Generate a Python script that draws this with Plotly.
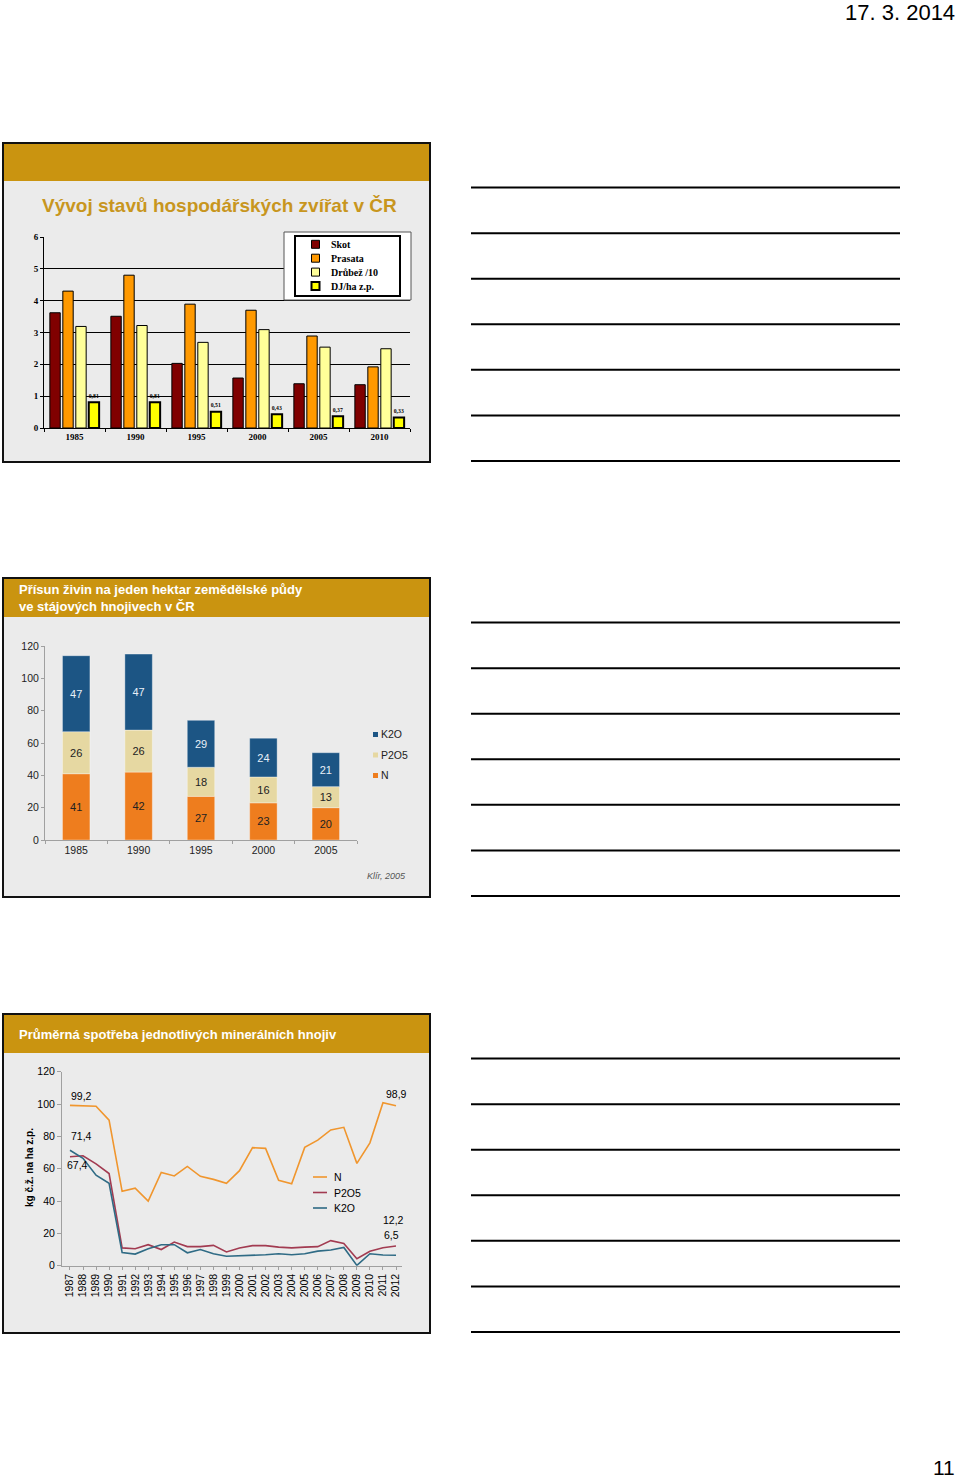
import plotly.graph_objects as go

W, H = 960, 1479

# --- slide 1: livestock numbers ---
years1 = ["1985", "1990", "1995", "2000", "2005", "2010"]
skot = [3.62, 3.51, 2.03, 1.57, 1.39, 1.36]
prasata = [4.30, 4.80, 3.89, 3.70, 2.89, 1.92]
drubez = [3.19, 3.22, 2.69, 3.09, 2.54, 2.49]
dj_ha = [0.81, 0.81, 0.51, 0.43, 0.37, 0.33]

# --- slide 2: nutrients in manure ---
years2 = ["1985", "1990", "1995", "2000", "2005"]
n_manure = [41, 42, 27, 23, 20]
p_manure = [26, 26, 18, 16, 13]
k_manure = [47, 47, 29, 24, 21]

# --- slide 3: mineral fertiliser use ---
years3 = list(range(1987, 2013))
n_min = [99.2, 99.0, 98.6, 90.0, 46.0, 48.0, 40.0, 57.7, 55.5, 61.4, 55.3, 53.4, 51.0,
         58.8, 73.0, 72.6, 52.8, 50.7, 73.2, 77.7, 84.0, 85.6, 63.3, 76.0, 100.8, 98.9]
p_min = [67.4, 68.0, 63.0, 57.0, 11.0, 10.5, 13.0, 10.0, 14.6, 11.8, 11.8, 12.6, 8.5,
         11.0, 12.4, 12.4, 11.5, 11.0, 11.5, 11.8, 15.5, 13.8, 4.3, 8.9, 11.1, 12.2]
k_min = [71.4, 66.4, 56.0, 51.0, 8.2, 7.2, 10.5, 13.0, 13.0, 8.0, 10.0, 7.4, 5.8,
         6.0, 6.6, 6.8, 7.4, 6.8, 7.4, 9.0, 9.7, 11.3, 0.2, 7.4, 6.6, 6.5]

GOLD = "#CA9410"
SLIDE_BG = "#EBEBEB"
SANS = "Liberation Sans"
SERIF = "Liberation Serif"


def px(x):
    return x / W


def py(y):
    return 1 - y / H


def cz(v, fmt="{:.2f}"):
    return fmt.format(v).replace(".", ",")


fig = go.Figure()
shapes = []
annotations = []

# slide 1 bars
serif_bold = dict(family=SERIF, size=9, color="black", weight="bold")
series1 = [
    ("Skot", skot, "#800000", 1),
    ("Prasata", prasata, "#FF9900", 1),
    ("Drůbež /10", drubez, "#FFFF99", 1),
    ("DJ/ha z.p.", dj_ha, "#FFFF00", 2),
]
for name, vals, color, lw in series1:
    fig.add_trace(go.Bar(
        x=years1, y=vals, name=name, xaxis="x", yaxis="y", showlegend=False,
        marker=dict(color=color, line=dict(color="black", width=lw)),
        text=[cz(v) for v in vals] if name.startswith("DJ") else None,
        textposition="outside", cliponaxis=False,
        textfont=dict(family=SERIF, size=7, color="black", weight="bold"),
    ))

# slide 2 stacked bars (manual base so slide 1 can stay grouped)
base_p = n_manure
base_k = [a + b for a, b in zip(n_manure, p_manure)]
series2 = [
    ("N", n_manure, None, "#EE7D1E", "#222222"),
    ("P2O5", p_manure, base_p, "#E6D8A2", "#222222"),
    ("K2O", k_manure, base_k, "#1C5584", "#E8F0F8"),
]
for name, vals, base, color, tcol in series2:
    fig.add_trace(go.Bar(
        x=years2, y=vals, base=base, name=name, xaxis="x2", yaxis="y2", showlegend=False,
        offsetgroup="stack", width=0.44, offset=-0.22,
        marker=dict(color=color, line=dict(color="rgba(255,255,255,0.35)", width=1)),
        text=[str(v) for v in vals], textposition="inside", insidetextanchor="middle",
        constraintext="none", textangle=0,
        textfont=dict(family=SANS, size=11, color=tcol),
    ))

# slide 3 lines
series3 = [
    ("N", n_min, "#F0962E"),
    ("P2O5", p_min, "#A23B51"),
    ("K2O", k_min, "#2F6B85"),
]
for name, vals, color in series3:
    fig.add_trace(go.Scatter(
        x=years3, y=vals, name=name, mode="lines", xaxis="x3", yaxis="y3", showlegend=False,
        line=dict(color=color, width=1.6),
    ))

# slide frames, headers and note lines
for top, bottom, head in [(143, 462, 181), (578, 897, 617), (1014, 1333, 1053)]:
    shapes.append(dict(type="rect", xref="paper", yref="paper", layer="below",
                       x0=px(3), x1=px(430), y0=py(bottom), y1=py(top),
                       fillcolor=SLIDE_BG, line=dict(width=0)))
    shapes.append(dict(type="rect", xref="paper", yref="paper", layer="below",
                       x0=px(3), x1=px(430), y0=py(head), y1=py(top),
                       fillcolor=GOLD, line=dict(width=0)))
    shapes.append(dict(type="rect", xref="paper", yref="paper", layer="above",
                       x0=px(3), x1=px(430), y0=py(bottom), y1=py(top),
                       fillcolor="rgba(0,0,0,0)", line=dict(color="#111111", width=2)))
    step = (bottom - top) / 7
    for i in range(7):
        yy = top + step * (i + 1) - 1
        shapes.append(dict(type="line", xref="paper", yref="paper",
                           x0=px(471), x1=px(900), y0=py(yy), y1=py(yy),
                           line=dict(color="black", width=2)))

# legend box on slide 1 (drawn by hand to get the tight row spacing)
shapes.append(dict(type="rect", xref="paper", yref="paper", layer="above",
                   x0=px(284), x1=px(411), y0=py(300), y1=py(232),
                   fillcolor="white", line=dict(color="#555555", width=1)))
shapes.append(dict(type="rect", xref="paper", yref="paper", layer="above",
                   x0=px(295), x1=px(400), y0=py(296), y1=py(236),
                   fillcolor="white", line=dict(color="black", width=2)))
for i, (name, vals, color, lw) in enumerate(series1):
    yc = 244.3 + i * 13.9
    shapes.append(dict(type="rect", xref="paper", yref="paper", layer="above",
                       x0=px(311.5), x1=px(319.5), y0=py(yc + 4), y1=py(yc - 4),
                       fillcolor=color, line=dict(color="black", width=lw)))
    annotations.append(dict(text=name, x=px(329), y=py(yc), xref="paper", yref="paper",
                            xanchor="left", yanchor="middle", showarrow=False,
                            font=dict(family=SERIF, size=10, color="black", weight="bold")))

# legend on slide 2
for i, (name, vals, base, color, tcol) in enumerate(reversed(series2)):
    yc = 734 + i * 20.5
    shapes.append(dict(type="rect", xref="paper", yref="paper",
                       x0=px(373), x1=px(378), y0=py(yc + 3), y1=py(yc - 2),
                       fillcolor=color, line=dict(width=0)))
    annotations.append(dict(text=name, x=px(378.5), y=py(yc), xref="paper", yref="paper",
                            xanchor="left", yanchor="middle", showarrow=False,
                            font=dict(family=SANS, size=10.5, color="#222222")))

# legend on slide 3
for i, (name, vals, color) in enumerate(series3):
    yc = 1177 + i * 15.5
    shapes.append(dict(type="line", xref="paper", yref="paper",
                       x0=px(313), x1=px(327), y0=py(yc), y1=py(yc),
                       line=dict(color=color, width=1.6)))
    annotations.append(dict(text=name, x=px(332), y=py(yc), xref="paper", yref="paper",
                            xanchor="left", yanchor="middle", showarrow=False,
                            font=dict(family=SANS, size=10.5, color="black")))

annotations += [
    dict(text="17. 3. 2014", x=px(957), y=py(12), xref="paper", yref="paper",
         xanchor="right", yanchor="middle", showarrow=False,
         font=dict(family=SANS, size=22, color="black")),
    dict(text="11", x=px(957), y=py(1467), xref="paper", yref="paper",
         xanchor="right", yanchor="middle", showarrow=False,
         font=dict(family=SANS, size=21, color="black")),
    dict(text="Vývoj stavů hospodářských zvířat v ČR", x=px(219), y=py(205),
         xref="paper", yref="paper", xanchor="center", yanchor="middle", showarrow=False,
         font=dict(family=SANS, size=19, color="#C8961E", weight="bold")),
    dict(text="Přísun živin na jeden hektar zemědělské půdy<br>ve stájových hnojivech v ČR",
         x=px(17), y=py(580), xref="paper", yref="paper", xanchor="left", yanchor="top",
         align="left", showarrow=False,
         font=dict(family=SANS, size=13, color="white", weight="bold")),
    dict(text="Klír, 2005", x=px(408), y=py(876), xref="paper", yref="paper",
         xanchor="right", yanchor="middle", showarrow=False,
         font=dict(family=SANS, size=9, color="#555555", style="italic")),
    dict(text="Průměrná spotřeba jednotlivých minerálních hnojiv", x=px(17), y=py(1034),
         xref="paper", yref="paper", xanchor="left", yanchor="middle", showarrow=False,
         font=dict(family=SANS, size=13, color="white", weight="bold")),
    dict(text="kg č.ž. na ha z.p.", x=px(29), y=py(1168), xref="paper", yref="paper",
         xanchor="center", yanchor="middle", textangle=-90, showarrow=False,
         font=dict(family=SANS, size=10, color="black", weight="bold")),
]

# value labels on slide 3
lab = dict(family=SANS, size=10.5, color="black")
for x, y, txt, dx, dy in [
    (years3[1], n_min[0], cz(n_min[0], "{:.1f}"), -2, 9),
    (years3[1], k_min[0], cz(k_min[0], "{:.1f}"), -2, 14),
    (years3[1], p_min[0], cz(p_min[0], "{:.1f}"), -6, -8),
    (years3[-1], n_min[-1], cz(n_min[-1], "{:.1f}"), 0, 12),
    (years3[-1], p_min[-1], cz(p_min[-1], "{:.1f}"), -3, 26),
    (years3[-1], k_min[-1], cz(k_min[-1], "{:.1f}"), -5, 20),
]:
    annotations.append(dict(text=txt, x=x, y=y, xref="x3", yref="y3", xshift=dx, yshift=dy,
                            showarrow=False, font=lab))

axis_common = dict(showgrid=False, zeroline=False, fixedrange=True, automargin=False)

fig.update_layout(
    template="none",
    width=W, height=H, margin=dict(l=0, r=0, t=0, b=0, pad=0, autoexpand=False),
    paper_bgcolor="white", plot_bgcolor="rgba(0,0,0,0)",
    barmode="group", bargap=0.15, bargroupgap=0.2,
    shapes=shapes, annotations=annotations, showlegend=False,
    # slide 1
    xaxis=dict(domain=[px(44), px(410)], anchor="y", type="category",
               showline=True, linecolor="black", linewidth=1,
               ticks="outside", ticklen=3, tickcolor="black", tickson="boundaries",
               tickfont=serif_bold, **axis_common),
    yaxis=dict(domain=[py(428), py(237)], anchor="x", range=[0, 6], dtick=1,
               showline=True, linecolor="black", linewidth=1,
               ticks="outside", ticklen=3, tickcolor="black",
               showgrid=True, gridcolor="black", gridwidth=1,
               zeroline=False, fixedrange=True, automargin=False, tickfont=serif_bold),
    # slide 2
    xaxis2=dict(domain=[px(45), px(357)], anchor="y2", type="category",
                showline=True, linecolor="#A0A0A0", linewidth=1,
                ticks="outside", ticklen=3, tickcolor="#A0A0A0", tickson="boundaries",
                tickfont=dict(family=SANS, size=10.5, color="#222222"), **axis_common),
    yaxis2=dict(domain=[py(840), py(646)], anchor="x2", range=[0, 120], dtick=20,
                showline=True, linecolor="#A0A0A0", linewidth=1,
                ticks="outside", ticklen=3, tickcolor="#A0A0A0",
                tickfont=dict(family=SANS, size=10.5, color="#222222"), **axis_common),
    # slide 3
    xaxis3=dict(domain=[px(62), px(402)], anchor="y3", range=[1986.39, 2012.46],
                tickmode="array", tickvals=years3, ticktext=[str(v) for v in years3],
                tickangle=-90, showline=True, linecolor="#A0A0A0", linewidth=1,
                ticks="outside", ticklen=3, tickcolor="#A0A0A0",
                tickfont=dict(family=SANS, size=10.5, color="black"), **axis_common),
    yaxis3=dict(domain=[py(1265.7), py(1071.7)], anchor="x3", range=[0, 120], dtick=20,
                showline=True, linecolor="#A0A0A0", linewidth=1,
                ticks="outside", ticklen=4, tickcolor="#A0A0A0",
                tickfont=dict(family=SANS, size=10.5, color="black"), **axis_common),
)

# pin the figure to the page corner so the sheet is not shifted
pin = (
    "document.documentElement.style.margin='0';"
    "document.body.style.margin='0';"
    "document.documentElement.style.overflow='hidden';"
    "document.body.style.overflow='hidden';"
    "var gd=document.getElementById('{plot_id}');"
    "gd.style.position='absolute';gd.style.top='0px';gd.style.left='0px';"
)
fig.write_html("out.html", config={"displayModeBar": False}, post_script=pin)
